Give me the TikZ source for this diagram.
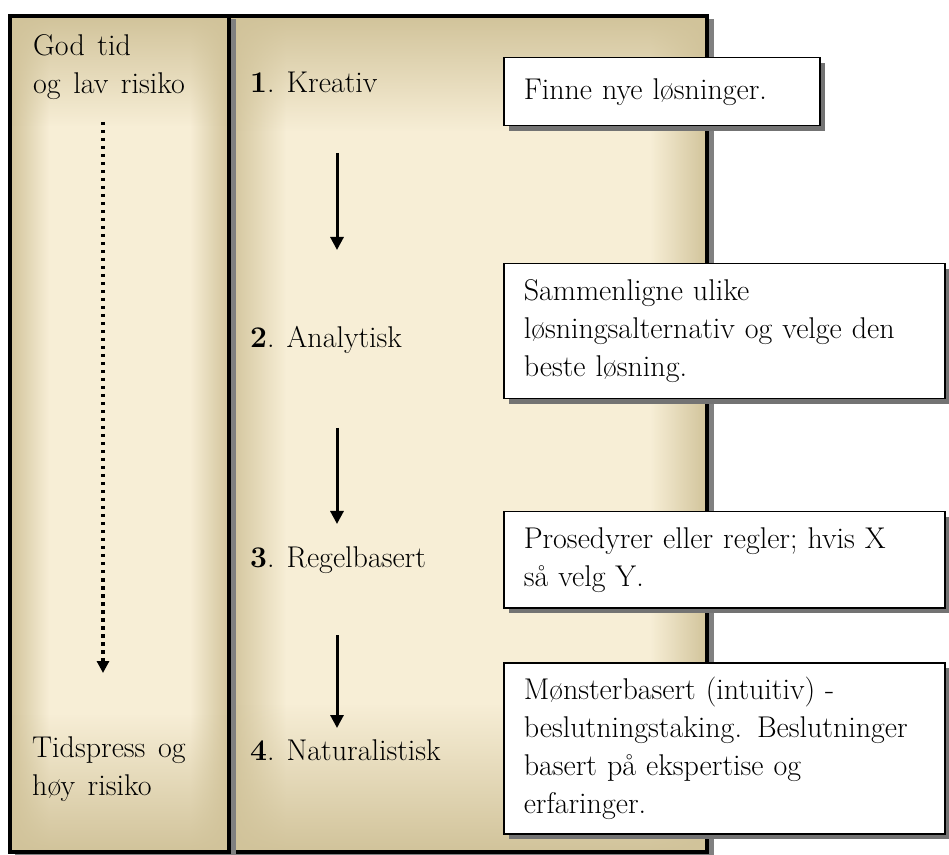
\documentclass[tikz,border=0pt]{standalone}
\usepackage{fontspec}
\usetikzlibrary{arrows.meta, shadows, fadings}

\definecolor{paneltan}{RGB}{209,195,154}
\definecolor{panelcream}{RGB}{247,238,214}
\pgfdeclarehorizontalshading{leftglow}{100bp}{color(0bp)=(paneltan); color(25bp)=(paneltan);
  color(34bp)=(panelcream); color(66bp)=(panelcream); color(75bp)=(paneltan); color(100bp)=(paneltan)}
\pgfdeclarehorizontalshading{rightglow}{100bp}{color(0bp)=(paneltan); color(25bp)=(paneltan);
  color(31bp)=(panelcream); color(69bp)=(panelcream); color(75bp)=(paneltan); color(100bp)=(paneltan)}
\newcommand{\widespacing}{\spaceskip=0.42em\relax}

\begin{document}
\begin{tikzpicture}[x=1pt, y=1pt,
  font=\fontsize{30}{38}\selectfont,
  panelframe/.style={draw=black, line width=4pt},
  infobox/.style={rectangle, draw, line width=1.5pt, fill=white, align=left,
                  anchor=north west, inner xsep=20pt, inner ysep=0pt,
                  font=\fontsize{30}{38}\selectfont\widespacing,
                  general shadow={fill=black!55, shadow xshift=5pt, shadow yshift=-5pt}},
  stage/.style={anchor=base west, inner sep=0pt},
  side/.style={anchor=north west, inner sep=0pt, align=left,
               font=\fontsize{30}{38}\selectfont\widespacing},
  flow/.style={line width=3pt, -{Triangle[width=13pt, length=13pt]}},
  lead/.style={line width=3.5pt, dash pattern=on 3.5pt off 4.5pt, -{Triangle[width=12pt, length=12pt]}}
]
  \useasboundingbox (0,0) rectangle (949,854);

  % right panel
  \fill[black!50] (236,-5) rectangle (714,835);
  \shade[shading=rightglow] (229,2) rectangle (707,838);
  \fill[paneltan, path fading=south] (229,723) rectangle (707,838);
  \fill[paneltan, path fading=north] (229,2) rectangle (707,150);
  \draw[panelframe] (229,2) rectangle (707,838);

  % left panel
  \fill[black!50] (15,-5) rectangle (236,835);
  \shade[shading=leftglow] (10,2) rectangle (229,838);
  \fill[paneltan, path fading=south] (10,728) rectangle (229,838);
  \fill[paneltan, path fading=north] (10,2) rectangle (229,140);
  \draw[panelframe] (10,2) rectangle (229,838);

  % left column
  \node[side] (godtid) at (33,820) {God tid\\og lav risiko};
  \node[side] (tidspress) at (32,118) {Tidspress og\\høy risiko};
  \coordinate (dtop) at (103,732);
  \coordinate (dtip) at (103,181);
  \draw[lead] (dtop) -- (dtip);

  % stages
  \node[stage] (kreativ) at (250,761) {\textbf{1}. Kreativ};
  \node[stage] (analytisk) at (250,506) {\textbf{2}. Analytisk};
  \node[stage] (regel) at (250,286) {\textbf{3}. Regelbasert};
  \node[stage] (natur) at (250,94) {\textbf{4}. Naturalistisk};

  \coordinate (a1top) at (337,701); \coordinate (a1tip) at (337,604);
  \coordinate (a2top) at (337,426); \coordinate (a2tip) at (337,330);
  \coordinate (a3top) at (337,219); \coordinate (a3tip) at (337,126);
  \draw[flow] (a1top) -- (a1tip);
  \draw[flow] (a2top) -- (a2tip);
  \draw[flow] (a3top) -- (a3tip);

  % descriptions
  \node[infobox, text width=276pt, minimum height=68pt] (finne) at (503,797)
    {Finne nye løsninger.};
  \node[infobox, text width=401pt, minimum height=135pt] (samm) at (503,591)
    {Sammenligne ulike\\løsningsalternativ og velge den\\beste løsning.};
  \node[infobox, text width=401pt, minimum height=96pt] (prosed) at (503,343)
    {Prosedyrer eller regler; hvis X\\så velg Y.};
  \node[infobox, text width=401pt, minimum height=171pt] (monster) at (503,192)
    {Mønsterbasert (intuitiv) -\\beslutningstaking. Beslutninger\\basert på ekspertise og\\erfaringer.};
\end{tikzpicture}
\end{document}
